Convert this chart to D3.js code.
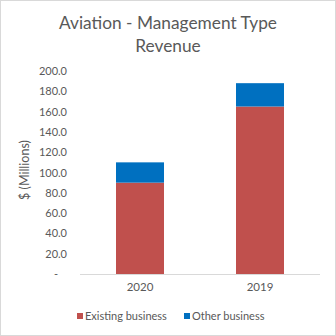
<!DOCTYPE html>
<html>
<head>
<meta charset="utf-8">
<script src="https://d3js.org/d3.v7.min.js"></script>
<style>
  body { margin: 0; background: #fff; }
  svg text { font-family: Lato, 'Open Sans', sans-serif; fill: #595959; }
</style>
</head>
<body>
<div id="chart"></div>
<script>
// chart data
var years = ['2020', '2019']
var existing = [90, 165]
var other = [20, 23]
var seriesNames = ['Existing business', 'Other business']
var seriesColors = ['#c0504d', '#0070c0']
var yTicks = [0, 20, 40, 60, 80, 100, 120, 140, 160, 180, 200]
var titleLines = ['Aviation - Management Type', 'Revenue']

var W = 336, H = 336
var svg = d3.select('#chart').append('svg').attr('width', W).attr('height', H)

svg.append('rect')
    .attr('x', 0.5).attr('y', 0.5)
    .attr('width', W - 1).attr('height', H - 1)
    .attr('fill', '#fff').attr('stroke', '#d9d9d9')

// title - squeeze a bit so it looks like the narrow office font
var titles = svg.selectAll('text.title')
    .data(titleLines)
    .join('text')
    .attr('class', 'title')
    .attr('x', 168)
    .attr('y', function(d, i) { return 29 + i * 23 })
    .attr('text-anchor', 'middle')
    .style('font-size', '17px')
    .text(function(d) { return d })
var squeeze = 218 / titles.node().getComputedTextLength()
titles.each(function() {
    var w = this.getComputedTextLength()
    d3.select(this).attr('textLength', w * squeeze).attr('lengthAdjust', 'spacingAndGlyphs')
})

var x = d3.scaleBand().domain(years).range([80, 320]).paddingInner(0.6).paddingOuter(0.3)
var y = d3.scaleLinear().domain([0, 200]).range([274, 71])

// stacked data
var rows = years.map(function(yr, i) {
    return { year: yr, existing: existing[i], other: other[i] }
})
var stack = d3.stack().keys(['existing', 'other'])(rows)

svg.append('g').selectAll('g')
    .data(stack)
    .join('g')
    .attr('fill', function(d, i) { return seriesColors[i] })
    .selectAll('rect')
    .data(function(d) { return d })
    .join('rect')
    .attr('x', function(d) { return x(d.data.year) })
    .attr('width', x.bandwidth())
    .attr('y', function(d) { return y(d[1]) })
    .attr('height', function(d) { return y(d[0]) - y(d[1]) })

// y axis labels
var yAxis = d3.axisLeft(y).tickValues(yTicks).tickSize(0).tickPadding(0)
    .tickFormat(function(d) { return d === 0 ? '-' : d3.format('.1f')(d) })
var gy = svg.append('g').attr('transform', 'translate(67,0)').call(yAxis)
gy.select('.domain').remove()
gy.selectAll('text').style('font-size', '11px').attr('fill', '#595959')
gy.selectAll('.tick').filter(function(d) { return d === 0 }).select('text').attr('dx', -9)

// x axis
var xAxis = d3.axisBottom(x).tickSize(0).tickPadding(9)
var gx = svg.append('g').attr('transform', 'translate(0,' + y(0) + ')').call(xAxis)
gx.select('.domain').attr('stroke', '#d9d9d9').attr('d', 'M80,0.5H320')
gx.selectAll('text').style('font-size', '11.5px').attr('fill', '#595959')

// y title
svg.append('text')
    .attr('transform', 'translate(29,170) rotate(-90)')
    .attr('text-anchor', 'middle').style('font-size', '12.5px')
    .text('$ (Millions)')

// legend
var legendX = [77, 184]
var lg = svg.append('g').selectAll('g')
    .data(seriesNames)
    .join('g')
    .attr('transform', function(d, i) { return 'translate(' + legendX[i] + ',313)' })
lg.append('rect').attr('width', 6).attr('height', 6)
    .attr('fill', function(d, i) { return seriesColors[i] })
lg.append('text').attr('x', 8).attr('y', 7).style('font-size', '11px')
    .text(function(d) { return d })
</script>
</body>
</html>
